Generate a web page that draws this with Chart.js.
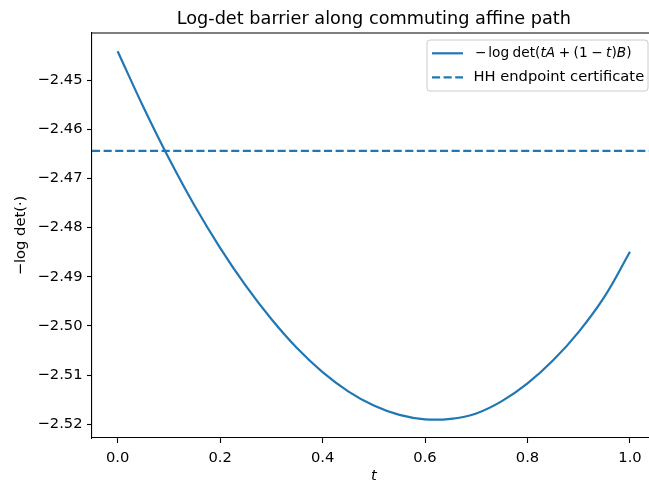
<!DOCTYPE html>
<html><head><meta charset="utf-8">
<script src="https://cdn.jsdelivr.net/npm/chart.js@4.4.1/dist/chart.umd.min.js"></script>
<style>
html,body{margin:0;padding:0;overflow:hidden;background:#fff;width:649px;height:483px}
#wrap{position:absolute;left:0;top:0;width:660px;height:483px}
</style>
</head><body><div id="wrap"><canvas id="c" width="660" height="483"></canvas></div>
<script>
// ---- data ----
const tValues = [0.00,0.05,0.10,0.15,0.20,0.25,0.30,0.35,0.40,0.45,0.50,0.55,0.60,0.65,0.70,0.75,0.80,0.85,0.90,0.95,1.00];
const barrierValues = [-2.4441,-2.4554,-2.4659,-2.4755,-2.4841,-2.4918,-2.4986,-2.5045,-2.5094,-2.5133,-2.5162,-2.5181,-2.5190,-2.5189,-2.5178,-2.5153,-2.5117,-2.5070,-2.5012,-2.4941,-2.4849];
const hhCertificate = -2.4644;
const xTicks = [0.0,0.2,0.4,0.6,0.8,1.0];
const yTicks = [-2.52,-2.51,-2.50,-2.49,-2.48,-2.47,-2.46,-2.45];
const xRange = [-0.05, 1.05];
const yRange = [-2.5228, -2.4404];
const chartTitle = 'Log-det barrier along commuting affine path';
const xLabel = 't';
const yLabel = '\u2212log det(\u00b7)';
// legend math label: [text, italic, gapBefore(units)]
const curveLabelParts = [['\u2212',false,0],['log',false,0.5],['det(',false,1],['tA',true,0],['+',false,1],['(1',false,1],['\u2212',false,1],['t',true,1],[')',false,0],['B',true,0],[')',false,0]];
const hhLabel = 'HH endpoint certificate';

const BLUE = '#1f77b4';
const FONT = '"DejaVu Sans", "Liberation Sans", sans-serif';
const FS = 14.7;
const MATH_FS = 13.7;
Chart.defaults.font.family = FONT;
Chart.defaults.font.size = FS;
Chart.defaults.color = '#000';

const fmt = v => v.toFixed(2).replace('-', '\u2212');
const fmtX = v => v.toFixed(1).replace('-', '\u2212');

const overlay = {
  id: 'overlay',
  afterDraw(chart) {
    const { ctx, chartArea: a } = chart;
    ctx.save();
    // top & right spines
    ctx.strokeStyle = '#000'; ctx.lineWidth = 1.1;
    ctx.beginPath(); ctx.moveTo(a.left, a.top); ctx.lineTo(a.right, a.top); ctx.lineTo(a.right, a.bottom); ctx.stroke();
    // title
    ctx.fillStyle = '#000';
    ctx.font = '17.7px ' + FONT; ctx.textAlign = 'center'; ctx.textBaseline = 'alphabetic';
    ctx.fillText(chartTitle, (a.left + a.right) / 2, 24);
    // x label
    ctx.font = 'italic ' + FS + 'px ' + FONT;
    ctx.fillText(xLabel, (a.left + a.right) / 2, 480);
    // y label
    ctx.save();
    ctx.translate(21, (a.top + a.bottom) / 2); ctx.rotate(-Math.PI / 2);
    ctx.font = FS + 'px ' + FONT; ctx.textBaseline = 'middle'; ctx.textAlign = 'center';
    ctx.fillText(yLabel, 0, 0);
    ctx.restore();
    // legend
    const bx = a.right - 228.6, by = 40, bw = 221, bh = 51, r = 3;
    ctx.beginPath();
    ctx.moveTo(bx + r, by); ctx.lineTo(bx + bw - r, by); ctx.quadraticCurveTo(bx + bw, by, bx + bw, by + r);
    ctx.lineTo(bx + bw, by + bh - r); ctx.quadraticCurveTo(bx + bw, by + bh, bx + bw - r, by + bh);
    ctx.lineTo(bx + r, by + bh); ctx.quadraticCurveTo(bx, by + bh, bx, by + bh - r);
    ctx.lineTo(bx, by + r); ctx.quadraticCurveTo(bx, by, bx + r, by);
    ctx.closePath();
    ctx.fillStyle = 'rgba(255,255,255,0.8)'; ctx.fill();
    ctx.strokeStyle = '#cccccc'; ctx.lineWidth = 1; ctx.stroke();
    const hx0 = bx + 5, hx1 = bx + 36, y1 = 53.3, y2 = 77.3;
    ctx.strokeStyle = BLUE; ctx.lineWidth = 2.2;
    ctx.beginPath(); ctx.moveTo(hx0, y1); ctx.lineTo(hx1, y1); ctx.stroke();
    ctx.setLineDash([8.1, 3.5]);
    ctx.beginPath(); ctx.moveTo(hx0, y2); ctx.lineTo(hx1, y2); ctx.stroke();
    ctx.setLineDash([]);
    ctx.fillStyle = '#000'; ctx.textAlign = 'left'; ctx.textBaseline = 'middle';
    const unit = 3.5;
    let x = bx + 48;
    for (const [s, it, g] of curveLabelParts) {
      ctx.font = (it ? 'italic ' : '') + MATH_FS + 'px ' + FONT;
      x += g * unit;
      ctx.fillText(s, x, y1);
      x += ctx.measureText(s).width;
    }
    ctx.font = FS + 'px ' + FONT;
    ctx.fillText(hhLabel, bx + 46.5, y2);
    ctx.restore();
  }
};

new Chart(document.getElementById('c'), {
  type: 'line',
  data: {
    datasets: [
      {
        label: 'curve',
        data: tValues.map((t, i) => ({ x: t, y: barrierValues[i] })),
        borderColor: BLUE, borderWidth: 2.2, pointRadius: 0,
        tension: 0.4, fill: false
      },
      {
        label: hhLabel,
        data: [{ x: xRange[0], y: hhCertificate }, { x: xRange[1], y: hhCertificate }],
        borderColor: BLUE, borderWidth: 2.2, pointRadius: 0, borderDash: [8.1, 3.5], fill: false
      }
    ]
  },
  options: {
    responsive: false, animation: false, devicePixelRatio: 1,
    layout: { padding: { top: 33, left: 0, right: 4.4, bottom: 0 } },
    plugins: { legend: { display: false }, title: { display: false }, tooltip: { enabled: false } },
    scales: {
      x: {
        type: 'linear', min: xRange[0], max: xRange[1],
        afterBuildTicks: s => { s.ticks = xTicks.map(v => ({ value: v })); },
        afterFit: s => { s.height = 45; },
        grid: { display: true, drawOnChartArea: false, drawTicks: true, tickLength: 5, tickWidth: 1.1, tickColor: '#000' },
        border: { display: true, color: '#000', width: 1.1 },
        ticks: { callback: v => fmtX(v), padding: 6.5, maxRotation: 0, autoSkip: false, color: '#000' }
      },
      y: {
        type: 'linear', min: yRange[0], max: yRange[1],
        afterBuildTicks: s => { s.ticks = yTicks.map(v => ({ value: v })); },
        afterFit: s => { s.width = 92; },
        grid: { display: true, drawOnChartArea: false, drawTicks: true, tickLength: 5, tickWidth: 1.1, tickColor: '#000' },
        border: { display: true, color: '#000', width: 1.1 },
        ticks: { callback: v => fmt(v), padding: 4.5, autoSkip: false, color: '#000' }
      }
    }
  },
  plugins: [overlay]
});
</script></body></html>
